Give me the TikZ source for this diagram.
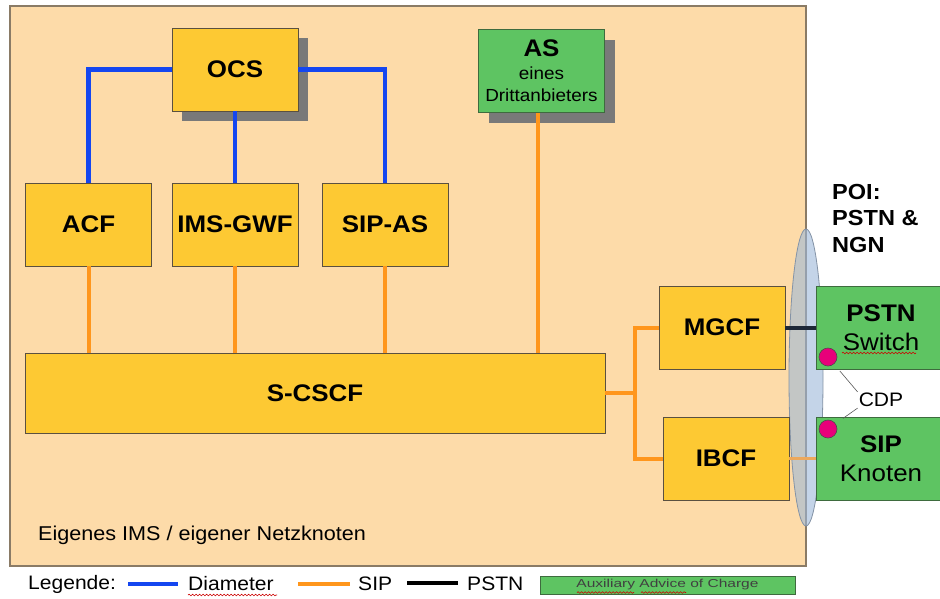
\documentclass[tikz,border=0pt]{standalone}
\usepackage{fontspec}
\setmainfont{Liberation Sans}
\usepackage{graphicx}
\usetikzlibrary{shadows,decorations.pathmorphing}
\definecolor{panelfill}{HTML}{FDDBA9}
\definecolor{paneldraw}{HTML}{8A7B66}
\definecolor{boxyellow}{HTML}{FDC933}
\definecolor{boxedge}{HTML}{5A5040}
\definecolor{boxgreen}{HTML}{5EC462}
\definecolor{greenedge}{HTML}{3E6B3E}
\definecolor{diamblue}{HTML}{1446F0}
\definecolor{siporange}{HTML}{FF961C}
\definecolor{sipfaint}{HTML}{EDA85C}
\definecolor{pstndark}{HTML}{1E2838}
\definecolor{ellfill}{HTML}{9DB8D9}
\definecolor{elldraw}{HTML}{8493A6}
\definecolor{dotpink}{HTML}{E8007A}
\newcommand{\sx}[1]{\scalebox{1.08}[1]{#1}}
\newcommand{\smallas}{\fontsize{17.5}{21}\selectfont\mdseries}
\begin{document}
\begin{tikzpicture}[x=1pt,y=-1pt,
  box/.style={draw=boxedge, fill=boxyellow, line width=0.9pt, minimum width=126pt,
    minimum height=83pt, inner sep=0pt, font=\fontsize{24}{26}\selectfont\bfseries},
  gbox/.style={box, draw=greenedge, fill=boxgreen},
  shad/.style={drop shadow={shadow xshift=10pt, shadow yshift=-10pt, fill=gray!95!black, opacity=1}},
  diam/.style={draw=diamblue, line width=4.4pt},
  sip/.style={draw=siporange, line width=4pt},
  sipf/.style={draw=sipfaint, line width=3.6pt},
  pstnl/.style={draw=pstndark, line width=4pt},
  pstnleg/.style={draw=black, line width=4pt},
  dotst/.style={circle, draw=black!70, fill=dotpink, line width=0.6pt, minimum size=18pt, inner sep=0pt},
  wavy/.style={draw=red!80!black, line width=0.6pt, decorate, decoration={snake, amplitude=0.8pt, segment length=3.5pt}},
  lbl/.style={inner sep=0pt, anchor=west}
]
\useasboundingbox (0,0) rectangle (940,598);
\fill[white] (0,0) rectangle (940,598);

% panel
\draw[fill=panelfill, draw=paneldraw, line width=1.2pt] (10,6) rectangle (806,566);

% POI ellipse (semi-transparent disk)
\fill[ellfill, opacity=0.6] (806,377.5) ellipse [x radius=17pt, y radius=148.5pt];
\draw[elldraw, line width=0.8pt] (806,377.5) ellipse [x radius=17pt, y radius=148.5pt];

% nodes
\node[box, shad] (ocs) at (235,69.5) {\sx{OCS}};
\node[gbox, shad, align=center] (as) at (541.5,71)
  {\sx{AS}\\[-3pt]\smallas\sx{eines}\\[-4pt]\smallas\sx{Drittanbieters}};
\node[box] (acf) at (88.5,224.5) {\sx{ACF}};
\node[box] (gwf) at (235,224.5) {\sx{IMS-GWF}};
\node[box] (sipas) at (385,224.5) {\sx{SIP-AS}};
\node[box, minimum width=580pt, minimum height=80pt] (scscf) at (315,393) {\sx{S-CSCF}};
\node[box] (mgcf) at (722,327.5) {\sx{MGCF}};
\node[box] (ibcf) at (726,458.5) {\sx{IBCF}};
\node[gbox, minimum width=130pt, align=center, font=\fontsize{24}{29}\selectfont] (pstn) at (881,327.5)
  {\textbf{\sx{PSTN}}\\\sx{Switch}};
\node[gbox, minimum width=130pt, align=center, font=\fontsize{24}{29}\selectfont] (sipk) at (881,458.5)
  {\textbf{\sx{SIP}}\\\sx{Knoten}};

% Diameter connectors
\draw[diam] (ocs.west) -| (acf.north);
\draw[diam] (ocs.south) -- (gwf.north);
\draw[diam] (ocs.east) -| (sipas.north);

% SIP connectors
\draw[sip] (acf.south) -- (acf.south |- scscf.north);
\draw[sip] (gwf.south) -- (gwf.south |- scscf.north);
\draw[sip] (sipas.south) -- (sipas.south |- scscf.north);
\draw[sip] ([xshift=-4pt]as.south) -- ([xshift=-4pt]as.south |- scscf.north);
\coordinate (j) at (635,393);
\draw[sip] (scscf.east) -- (j);
\draw[sip] (mgcf.west) -| (j |- ibcf.west) -- (ibcf.west);

% POI connectors
\draw[pstnl] (mgcf.east) -- (pstn.west);
\draw[sipf] (ibcf.east) -- (sipk.west);

% CDP
\node[dotst] (d1) at (828,357) {};
\node[dotst] (d2) at (828,429) {};
\node[inner sep=1pt, font=\fontsize{19.5}{22}\selectfont] (cdp) at (881,400) {\sx{CDP}};
\draw[gray!70!black, line width=0.6pt, shorten <=9pt] (d1) -- (cdp.north west);
\draw[gray!70!black, line width=0.6pt, shorten <=9pt] (d2) -- (cdp.south west);

% POI label
\node[inner sep=0pt, anchor=north west, align=left, font=\fontsize{21.8}{26.5}\selectfont\bfseries] (poi) at (832,184)
  {\sx{POI:}\\\sx{PSTN \&}\\\sx{NGN}};

% panel caption
\node[lbl, font=\fontsize{20}{22}\selectfont] (eig) at (38,535) {\sx{Eigenes IMS / eigener Netzknoten}};

% legend
\node[lbl, font=\fontsize{19.5}{22}\selectfont] (leg) at (28,584) {\sx{Legende:}};
\coordinate (b1) at (128,584); \coordinate (b2) at (178,584);
\draw[diam, line width=4pt] (b1) -- (b2);
\node[lbl, font=\fontsize{19.5}{22}\selectfont] (ldia) at (188,584) {\sx{Diameter}};
\coordinate (o1) at (298,584); \coordinate (o2) at (350,584);
\draw[sip] (o1) -- (o2);
\node[lbl, font=\fontsize{19.5}{22}\selectfont] (lsip) at (358,584) {\sx{SIP}};
\coordinate (k1) at (407,583); \coordinate (k2) at (458,583);
\draw[pstnleg] (k1) -- (k2);
\node[lbl, font=\fontsize{19.5}{22}\selectfont] (lpstn) at (467,584) {\sx{PSTN}};
\node[draw=greenedge, fill=boxgreen, line width=0.8pt, minimum width=255pt, minimum height=18pt,
  inner sep=0pt, font=\fontsize{11.5}{12}\selectfont, text=black!75] (laoc) at (667.5,585)
  {\scalebox{1.35}[1]{Auxiliary Advice of Charge}};

% spell-check underlines
\draw[wavy] (842,353) -- (916,353);
\draw[wavy] (188,595) -- (277,595);
\draw[wavy] (577,592.5) -- (634,592.5);
\draw[wavy] (641,592.5) -- (686,592.5);
\end{tikzpicture}
\end{document}
